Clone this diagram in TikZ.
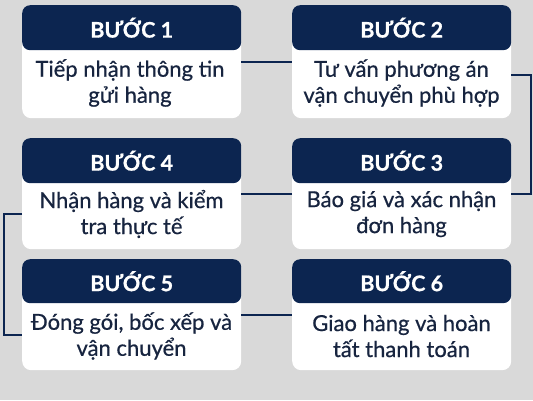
\documentclass[tikz,border=0pt]{standalone}
\usepackage{fontspec}
\setmainfont{Lato}
\newfontface\bodyfont{Lato}[FakeBold=0.6]
\newfontfamily\headfont{Lato}[BoldFeatures={FakeBold=0.7}]
\usetikzlibrary{calc}
\definecolor{navy}{HTML}{0C2550}
\definecolor{bgc}{HTML}{D9D9D9}
\definecolor{txt}{HTML}{17243F}
\tikzset{
  card/.style={draw=none,fill=white,rounded corners=9pt,minimum width=219pt,minimum height=113pt,inner sep=0pt},
  head/.style={draw=none,fill=navy,rounded corners=8pt,minimum width=219pt,minimum height=45pt,inner sep=0pt,text=white,font=\fontsize{21.5}{24}\headfont\bfseries},
  body/.style={align=center,text=txt,inner sep=0pt,font=\fontsize{22}{26}\bodyfont},
  link/.style={draw=navy,line width=2pt}
}
\begin{document}
\begin{tikzpicture}[x=1pt,y=-1pt]
\fill[bgc] (0,0) rectangle (533,400);
\useasboundingbox (0,0) rectangle (533,400);
% cards
\node[card,anchor=north west] (s1) at (22,5) {};
\node[card,anchor=north west] (s2) at (292,5) {};
\node[card,anchor=north west,minimum height=111pt] (s4) at (22,138) {};
\node[card,anchor=north west,minimum height=111pt] (s3) at (292,138) {};
\node[card,anchor=north west,minimum height=111pt] (s5) at (22,259) {};
\node[card,anchor=north west,minimum height=111pt] (s6) at (292,259) {};
% headers
\node[head,anchor=north west] (h1) at (22,5) {BƯỚC 1};
\node[head,anchor=north west] (h2) at (292,5) {BƯỚC 2};
\node[head,anchor=north west] (h4) at (22,138) {BƯỚC 4};
\node[head,anchor=north west] (h3) at (292,138) {BƯỚC 3};
\node[head,anchor=north west,minimum height=44pt] (h5) at (22,259) {BƯỚC 5};
\node[head,anchor=north west,minimum height=44pt] (h6) at (292,259) {BƯỚC 6};
% texts
\node[body] (t1) at (130,83) {Tiếp nhận thông tin\\gửi hàng};
\node[body] (t2) at (401.5,83) {Tư vấn phương án\\vận chuyển phù hợp};
\node[body] (t4) at (131.5,214) {Nhận hàng và kiểm\\tra thực tế};
\node[body] (t3) at (401.5,214) {Báo giá và xác nhận\\đơn hàng};
\node[body] (t5) at (131.5,336) {Đóng gói, bốc xếp và\\vận chuyển};
\node[body] (t6) at (401.5,336) {Giao hàng và hoàn\\tất thanh toán};
% connectors
\draw[link] (s1.east) -- (s2.west);
\draw[link] ([yshift=-13.5pt]s2.east) -- ++(20,0) |- (s3.east);
\draw[link] (s3.west) -- (s4.east);
\draw[link] ([yshift=-20.5pt]s4.west) -- ++(-18,0) |- ([yshift=-20.5pt]s5.west);
\draw[link] (s5.east) -- (s6.west);
\end{tikzpicture}
\end{document}
